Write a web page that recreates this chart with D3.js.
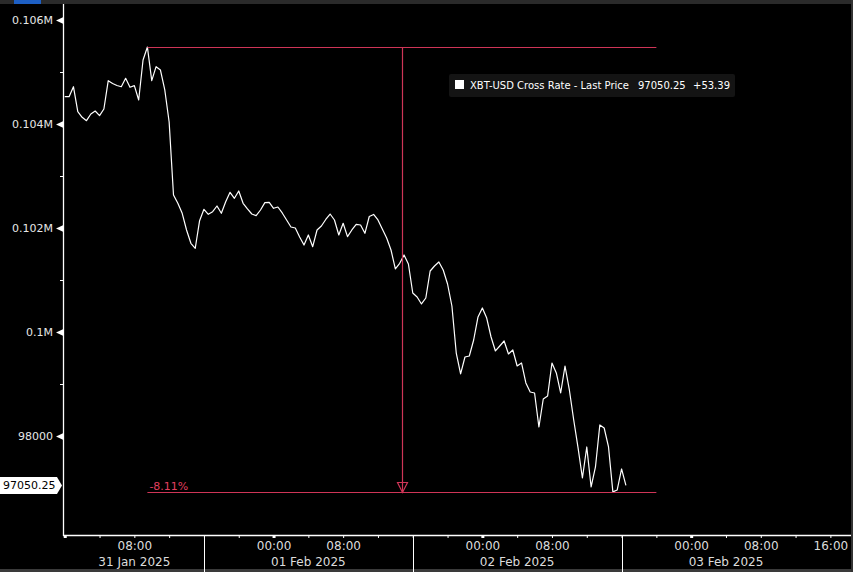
<!DOCTYPE html>
<html><head><meta charset="utf-8">
<script src="https://cdn.jsdelivr.net/npm/d3@7/dist/d3.min.js"></script>
<style>html,body{margin:0;padding:0;background:#000;overflow:hidden}</style>
</head><body><svg id="c" width="853" height="572"></svg>
<script>
const seriesName = "XBT-USD Cross Rate - Last Price";
const startTime = "2025-01-31T00:00";
const stepMinutes = 30;
const prices = [
104525,104525,104717,104237,104129,104064,104192,104250,104160,104289,
104833,104779,104740,104717,104879,104706,104737,104462,105231,105480,
104833,105102,105038,104654,104039,102635,102475,102283,101962,101706,
101610,102141,102360,102264,102314,102423,102283,102506,102687,102571,
102712,102475,102366,102269,102237,102346,102487,102494,102379,102404,
102289,102154,102019,102000,101827,101673,101866,101641,101962,102039,
102164,102269,102154,101866,102091,101833,101962,102071,102058,101898,
102221,102260,102154,101981,101808,101577,101212,101321,101481,101308,
100750,100673,100539,100654,101173,101269,101346,101192,100923,100500,
99596,99193,99519,99539,99846,100289,100462,100269,99904,99635,
99731,99827,99577,99654,99346,99404,99020,98846,98827,98173,
98712,98770,99404,99212,98827,99346,98885,98308,97770,97193,
97789,97020,97404,98212,98154,97789,96926,96962,97366,97050.25
];
const lastPriceLabel = "97050.25";
const netChangeLabel = "+53.39";
const yTickValues = [98000, 100000, 102000, 104000, 106000];
const yTickLabels = ["98000", "0.1M", "0.102M", "0.104M", "0.106M"];
const yMinorValues = [99000, 101000, 103000, 105000];
const xDomain = ["2025-01-30T23:48", "2025-02-03T18:36"];
const xTickTimes = ["2025-01-31T08:00","2025-02-01T00:00","2025-02-01T08:00","2025-02-02T00:00","2025-02-02T08:00","2025-02-03T00:00","2025-02-03T08:00","2025-02-03T16:00"];
const xTickLabels = ["08:00","00:00","08:00","00:00","08:00","00:00","08:00","16:00"];
const dayLabelTimes = ["2025-01-31T08:00","2025-02-01T04:00","2025-02-02T04:00","2025-02-03T04:00"];
const dayLabels = ["31 Jan 2025","01 Feb 2025","02 Feb 2025","03 Feb 2025"];
const daySeparators = ["2025-01-31T16:00","2025-02-01T16:00","2025-02-02T16:00"];
const drawdownEnd = "2025-02-02T20:00";

const parse = d3.timeParse("%Y-%m-%dT%H:%M");
const t0 = parse(startTime);
const data = prices.map((v, i) => ({t: d3.timeMinute.offset(t0, i * stepMinutes), v}));

const svg = d3.select("#c");
const W = 853, H = 572;
const left = 63, axisY = 535;
const RED = "#cf3557", RED_TXT = "#e23f5f";
const FONT = "DejaVu Sans, Verdana, sans-serif";

svg.append("rect").attr("width", W).attr("height", H).attr("fill", "#000");

const x = d3.scaleTime().domain(xDomain.map(parse)).range([left, W]);
const y = d3.scaleLinear().domain([98000, 106000]).range([436, 20]);

// header strip, bottom strip, right edge
svg.append("rect").attr("x", 0).attr("y", 0).attr("width", W).attr("height", 4).attr("fill", "#2a2a2a");
svg.append("rect").attr("x", 14).attr("y", 0).attr("width", 27).attr("height", 4).attr("fill", "#1d5fc4");
svg.append("rect").attr("x", 0).attr("y", 569).attr("width", W).attr("height", 3).attr("fill", "#3a3a3a");
svg.append("rect").attr("x", 851).attr("y", 0).attr("width", 2).attr("height", H).attr("fill", "#333");

// clip
svg.append("clipPath").attr("id", "clip").append("rect")
  .attr("x", left).attr("y", 4).attr("width", W - left).attr("height", axisY - 4);

// Y axis
const yAxis = d3.axisLeft(y).tickValues(yTickValues)
  .tickFormat((d, i) => yTickLabels[i]).tickSize(0).tickPadding(10);
const yg = svg.append("g").attr("transform", `translate(${left},0)`).call(yAxis);
yg.select(".domain").remove();
yg.selectAll("text").attr("fill", "#e6e6e6").attr("font-family", FONT).attr("font-size", 11);
yg.selectAll(".tick").append("path").attr("d", "M-7,0L0,-3.2L0,3.2Z").attr("fill", "#fff");
const yMinor = d3.axisLeft(y).tickValues(yMinorValues).tickFormat("").tickSize(3);
const ym = svg.append("g").attr("transform", `translate(${left},0)`).call(yMinor);
ym.select(".domain").remove();
ym.selectAll("line").attr("stroke", "#fff");
svg.append("line").attr("x1", left + 0.5).attr("x2", left + 0.5).attr("y1", 4).attr("y2", axisY + 1)
  .attr("stroke", "#fff").attr("stroke-width", 1.3);

// X axis
const xMinor = d3.axisBottom(x).ticks(d3.timeHour.every(4)).tickFormat("").tickSize(3);
const xg = svg.append("g").attr("transform", `translate(0,${axisY})`).call(xMinor);
xg.select(".domain").remove();
xg.selectAll("line").attr("stroke", "#fff");
xg.selectAll(".tick").filter(d => d.getHours() === 0).append("rect")
  .attr("x", -1.5).attr("y", 0).attr("width", 3).attr("height", 3).attr("fill", "#fff");
svg.append("line").attr("x1", left).attr("x2", 851).attr("y1", axisY + 0.5).attr("y2", axisY + 0.5)
  .attr("stroke", "#fff").attr("stroke-width", 1.3);
const xLab = d3.axisBottom(x).tickValues(xTickTimes.map(parse))
  .tickFormat((d, i) => xTickLabels[i]).tickSize(0).tickPadding(6);
const xl = svg.append("g").attr("transform", `translate(0,${axisY})`).call(xLab);
xl.select(".domain").remove();
xl.selectAll("text").attr("fill", "#dcdcdc").attr("font-family", FONT).attr("font-size", 12);
svg.append("g").selectAll("line").data(daySeparators.map(parse)).join("line")
  .attr("x1", d => Math.round(x(d)) + 0.5).attr("x2", d => Math.round(x(d)) + 0.5)
  .attr("y1", axisY).attr("y2", H).attr("stroke", "#fff").attr("stroke-width", 1);
svg.append("g").selectAll("text").data(dayLabelTimes.map(parse)).join("text")
  .attr("x", d => x(d)).attr("y", 566).attr("text-anchor", "middle")
  .attr("fill", "#dcdcdc").attr("font-family", FONT).attr("font-size", 12)
  .text((d, i) => dayLabels[i]);

// price line
const line = d3.line().x(d => x(d.t)).y(d => y(d.v));
svg.append("path").datum(data).attr("clip-path", "url(#clip)")
  .attr("d", line).attr("fill", "none").attr("stroke", "#fff").attr("stroke-width", 1.2)
  .attr("stroke-linejoin", "round");

// drawdown annotation
const peak = d3.max(data, d => d.v);
const trough = d3.min(data, d => d.v);
const peakPt = data.find(d => d.v === peak);
const xa = x(peakPt.t), xb = x(parse(drawdownEnd));
const xm = Math.round((xa + xb) / 2) + 0.5;
const yPeak = Math.round(y(peak)) + 0.5, yTr = Math.round(y(trough)) + 0.5;
const ann = svg.append("g").attr("stroke", RED).attr("stroke-width", 1.2).attr("fill", "none");
ann.append("line").attr("x1", xa).attr("x2", xb).attr("y1", yPeak).attr("y2", yPeak);
ann.append("line").attr("x1", xa).attr("x2", xb).attr("y1", yTr).attr("y2", yTr);
ann.append("line").attr("x1", xm).attr("x2", xm).attr("y1", yPeak).attr("y2", yTr);
ann.append("path").attr("d", `M${xm - 5},${yTr - 10}L${xm + 5},${yTr - 10}L${xm},${yTr}Z`);
const pct = ((trough - peak) / peak * 100).toFixed(2) + "%";
svg.append("text").attr("x", xa + 2).attr("y", yTr - 3).attr("fill", RED_TXT)
  .attr("font-family", FONT).attr("font-size", 11).text(pct);

// last price label
const yl = y(prices[prices.length - 1]);
svg.append("path").attr("d", `M0,${yl - 8.5}L57,${yl - 8.5}L62,${yl}L57,${yl + 8.5}L0,${yl + 8.5}Z`).attr("fill", "#fff");
svg.append("text").attr("x", 3).attr("y", yl + 4).attr("fill", "#000")
  .attr("font-family", FONT).attr("font-size", 11).text(lastPriceLabel);

// legend
const lg = svg.append("g");
lg.append("rect").attr("x", 449).attr("y", 74).attr("width", 286).attr("height", 23).attr("rx", 2).attr("fill", "#141414");
lg.append("rect").attr("x", 455).attr("y", 80).attr("width", 9).attr("height", 9).attr("fill", "#fff");
lg.append("text").attr("x", 470).attr("y", 89).attr("fill", "#fff").attr("font-family", FONT).attr("font-size", 10).text(seriesName);
lg.append("text").attr("x", 638).attr("y", 89).attr("fill", "#fff").attr("font-family", FONT).attr("font-size", 10).text(lastPriceLabel);
lg.append("text").attr("x", 693).attr("y", 89).attr("fill", "#fff").attr("font-family", FONT).attr("font-size", 10).text(netChangeLabel);
</script></body></html>
